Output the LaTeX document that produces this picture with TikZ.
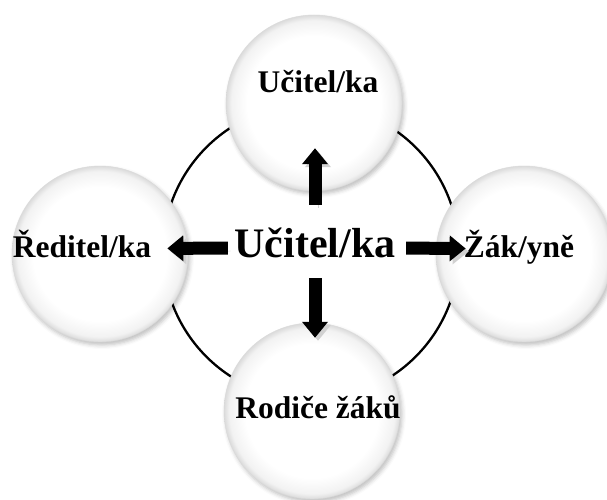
\documentclass[tikz,border=0pt]{standalone}
\usepackage{fontspec}
\setmainfont{Liberation Serif}
\usetikzlibrary{arrows.meta,shadows.blur,positioning,calc}
\pgfdeclareradialshading{ballshade}{\pgfpoint{0bp}{0bp}}{color(0bp)=(white); color(19bp)=(white); color(23.5bp)=(gray!10); color(25bp)=(gray!28); color(50bp)=(gray!28)}

\begin{document}
\begin{tikzpicture}[x=1pt, y=-1pt,
    ball/.style={circle, minimum size=176pt, inner sep=0pt, shading=ballshade, draw=gray!30, line width=0.4pt,
        blur shadow={shadow xshift=2pt, shadow yshift=-3pt, shadow opacity=25, shadow blur radius=4pt}},
    lbl/.style={inner sep=0pt, font=\bfseries\fontsize{31.5}{31.5}\selectfont, text height=21pt, text depth=4pt},
    blockarrow/.style={line width=13pt, -{Triangle[length=16pt, width=25pt]},
        preaction={draw=black!18, transform canvas={xshift=3pt, yshift=-3pt}}}]
    \useasboundingbox (0,0) rectangle (607,500);

    % Ring behind the balls
    \node[draw, circle, line width=2.3pt, minimum size=296pt, inner sep=0pt] (ring) at (311,252) {};

    % Balls
    \node[ball] (tball) at (314,103) {};
    \node[ball] (lball) at (100,254) {};
    \node[ball] (rball) at (524,254) {};
    \node[ball] (bball) at (312,411) {};

    % Labels
    \node[lbl] (tlbl) at (318,84.5) {Učitel/ka};
    \node[lbl] (llbl) at (82,248.5) {Ředitel/ka};
    \node[lbl] (rlbl) at (519,248.5) {Žák/yně};
    \node[lbl] (blbl) at (318,409.5) {Rodiče žáků};
    \node[inner sep=0pt, font=\bfseries\fontsize{42}{42}\selectfont, text height=30pt, text depth=12pt] (ctr) at (315,248) {Učitel/ka};

    % Arrows
    \draw[blockarrow, shorten <=22pt, shorten >=51pt] (ctr.north) -- (ctr.north |- tlbl.south);
    \draw[blockarrow, shorten <=9pt, shorten >=59pt] (ctr.south) -- (ctr.south |- blbl.north);
    \draw[blockarrow, shorten <=6.5pt, shorten >=16pt] (ctr.west) -- (llbl.east);
    \draw[blockarrow, shorten <=10.5pt, shorten >=-2pt] (ctr.east) -- (rlbl.west);
\end{tikzpicture}
\end{document}
